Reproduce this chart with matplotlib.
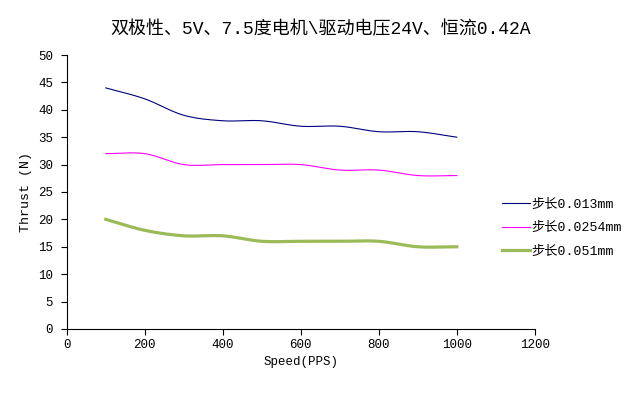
import matplotlib
matplotlib.use('Agg')
import matplotlib.pyplot as plt
import numpy as np

plt.rcParams['font.family'] = ['Liberation Mono', 'Noto Sans CJK SC', 'DejaVu Sans']

# Data
speed = [100, 200, 300, 400, 500, 600, 700, 800, 900, 1000]
thrust_013 = [44, 42, 39, 38, 38, 37, 37, 36, 36, 35]
thrust_0254 = [32, 32, 30, 30, 30, 30, 29, 29, 28, 28]
thrust_051 = [20, 18, 17, 17, 16, 16, 16, 16, 15, 15]
labels = ['步长0.013mm', '步长0.0254mm', '步长0.051mm']


def smooth(x, y, n=20):
    # Catmull-Rom spline through the points, like Excel's smoothed lines
    x = np.asarray(x, float)
    y = np.asarray(y, float)
    px = np.concatenate([[2 * x[0] - x[1]], x, [2 * x[-1] - x[-2]]])
    py = np.concatenate([[2 * y[0] - y[1]], y, [2 * y[-1] - y[-2]]])
    t = np.linspace(0, 1, n, endpoint=False)
    xs, ys = [], []
    for i in range(1, len(px) - 2):
        for p, out in ((px, xs), (py, ys)):
            p0, p1, p2, p3 = p[i - 1], p[i], p[i + 1], p[i + 2]
            out.extend(0.5 * (2 * p1 + (-p0 + p2) * t
                              + (2 * p0 - 5 * p1 + 4 * p2 - p3) * t ** 2
                              + (-p0 + 3 * p1 - 3 * p2 + p3) * t ** 3))
    xs.append(x[-1])
    ys.append(y[-1])
    return xs, ys


fig = plt.figure(figsize=(6.42, 3.93), dpi=100)
ax = fig.add_axes([0.104, 0.163, 0.729, 0.697])

ax.plot(*smooth(speed, thrust_013), color='#000080', linewidth=0.8, label=labels[0])
ax.plot(*smooth(speed, thrust_0254), color='#FF00FF', linewidth=0.8, label=labels[1])
ax.plot(*smooth(speed, thrust_051), color='#9BBB59', linewidth=2.3, label=labels[2])

ax.set_xlim(0, 1200)
ax.set_ylim(0, 50)
ax.set_xticks(range(0, 1201, 200))
ax.set_yticks(range(0, 51, 5))
ax.tick_params(direction='out', length=4, width=0.8, labelsize=9, colors='black')
ax.tick_params(axis='y', pad=6)
for s in ['top', 'right']:
    ax.spines[s].set_visible(False)

ax.set_xlabel('Speed(PPS)', fontsize=9, labelpad=3)
ax.set_ylabel('Thrust (N)', fontsize=9.5, labelpad=4)
fig.suptitle('双极性、5V、7.5度电机\\驱动电压24V、恒流0.42A', fontsize=13, y=0.948)

fig.legend(loc='center left', bbox_to_anchor=(502 / 642, 1 - 228 / 393), frameon=False,
           fontsize=9.5, handlelength=2.1, handletextpad=0.15, labelspacing=0.85,
           borderpad=0, borderaxespad=0)

fig.savefig('out.png', dpi=100)
